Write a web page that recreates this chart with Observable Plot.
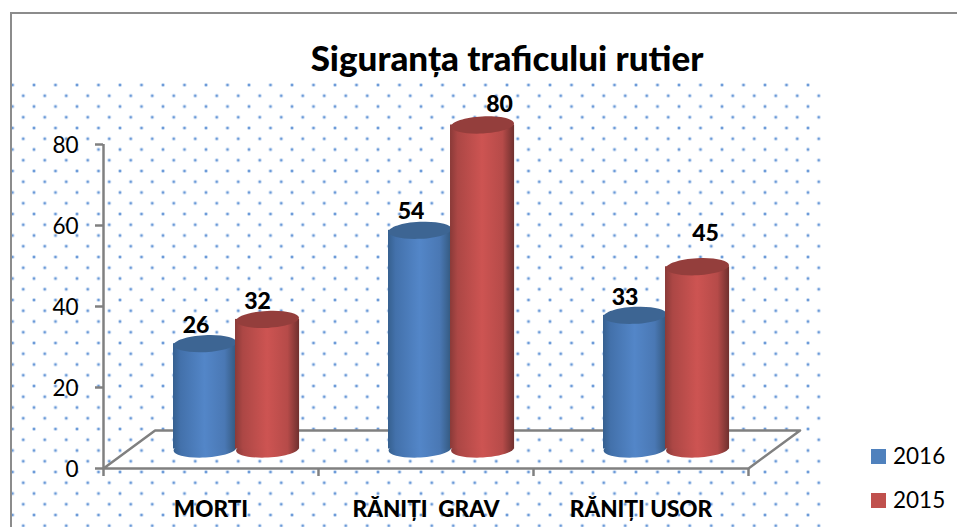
<!doctype html>
<html><head><meta charset="utf-8">
<script src="https://cdn.jsdelivr.net/npm/d3@7"></script>
<script src="https://cdn.jsdelivr.net/npm/@observablehq/plot@0.6"></script>
<style>
html,body{margin:0;padding:0;background:#fff;overflow:hidden}
#page{position:relative;width:957px;height:527px;overflow:hidden;font-family:Lato,sans-serif;color:#000}
#border{position:absolute;left:10px;top:12px;right:-4px;bottom:-4px;border-top:2px solid #8c8c8c;border-left:2px solid #8c8c8c}
#dots{position:absolute;left:7px;top:80px;width:815px;height:447px;
background-image:radial-gradient(circle,#5c8ed2 0,#6f9dd9 0.9px,#dbe7f6 1.7px,rgba(255,255,255,0) 2.4px),radial-gradient(circle,#5c8ed2 0,#6f9dd9 0.9px,#dbe7f6 1.7px,rgba(255,255,255,0) 2.4px);
background-size:21.5px 21.5px;background-position:-5.25px -5.75px,5.5px 5px}
#title{position:absolute;left:12px;width:990px;top:37px;text-align:center;font-weight:900;font-size:35px;line-height:40px}
#chart{position:absolute;left:0;top:0}
.lg{position:absolute;left:871px;width:100px;height:15px}
.lg i{position:absolute;left:0;top:0;width:15px;height:15px}
.lg span{position:absolute;left:22px;top:-8px;font-size:22.5px;line-height:30px}
</style></head><body>
<div id="page"><div id="dots"></div><div id="border"></div><div id="title"></div><div id="chart"></div></div>
<script>
const titleText = "Siguranța traficului rutier";
const categories = ["MORTI", "RĂNIȚI  GRAV", "RĂNIȚI USOR"];
const seriesNames = ["2016", "2015"];
const values2016 = [26, 54, 33];
const values2015 = [32, 80, 45];
const yTicks = [0, 20, 40, 60, 80];
const swatchColors = ["#4f81bd", "#c0504d"];

const rows = s => (s === 0 ? values2016 : values2015).map((v, i) => ({i, v, c: categories[i]}));
const blue = rows(0), red = rows(1);
const inkGray = "#808080";
const baseLift = -19.5;

// Floor of the 3-D box, in axis units (category widths, values)
const depthX = 0.24, depthY = 9.4;
const floor = [[0,0],[depthX,depthY],[3 + depthX,depthY],[3,0],[0,0]];

const ellipse = {draw(p) {
  const a = 31.5, b = 8.5, k = 0.5523;
  p.moveTo(-a,0);
  p.bezierCurveTo(-a,-k*b,-k*a,-b,0,-b);
  p.bezierCurveTo(k*a,-b,a,-k*b,a,0);
  p.bezierCurveTo(a,k*b,k*a,b,0,b);
  p.bezierCurveTo(-k*a,b,-a,k*b,-a,0);
  p.closePath();
}};

function cylinder(data, from, to, body, cap) {
  const mid = (from + to) / 2;
  return [
    Plot.dot(data, {x: d => d.i + mid, y: 0, symbol: ellipse, fill: body, dy: baseLift, rotate: -3}),
    Plot.rectY(data, {x1: d => d.i + from, x2: d => d.i + to, y1: 0, y2: "v", fill: body, dy: baseLift}),
    Plot.dot(data, {x: d => d.i + mid, y: "v", symbol: ellipse, fill: cap, dy: baseLift, rotate: -3})
  ];
}
const labelFont = {fontWeight: 900, fontSize: 23, fill: "#000", fontFamily: "Lato"};
const blueMid = 0.4725, redMid = 0.763;
const label = (data, mid, idx, dx, dy) => Plot.text(data.filter(d => d.i === idx), {
  x: d => d.i + mid, y: "v", text: d => String(d.v), dx, dy, ...labelFont});

const chart = Plot.plot({
  width: 957, height: 527,
  marginLeft: 103, marginRight: 209, marginTop: 144, marginBottom: 59,
  style: {background: "transparent", fontFamily: "Lato"},
  x: {domain: [0, 3], axis: null},
  y: {domain: [0, 80], axis: null},
  marks: [
    Plot.line(floor, {x: d => d[0], y: d => d[1], stroke: inkGray, strokeWidth: 2.5}),
    Plot.ruleX([0], {y1: 0, y2: 80, stroke: inkGray, strokeWidth: 2.5}),
    Plot.axisY({ticks: yTicks, tickSize: 8, stroke: inkGray, strokeWidth: 2.5, strokeOpacity: 1, tickFormat: () => "", label: null}),
    Plot.axisY({ticks: yTicks, tickSize: 0, tickPadding: 25, dy: 1, fontSize: 22.5, fill: "#000", label: null}),
    Plot.axisX({ticks: [0, 1, 2, 3], tickSize: 8, stroke: inkGray, strokeWidth: 2.5, strokeOpacity: 1, tickFormat: () => "", label: null}),
    Plot.axisX({ticks: [0.5, 1.5, 2.5], tickSize: 0, tickPadding: 33, tickFormat: t => categories[Math.floor(t)],
                fontWeight: 900, fontSize: 22.5, fill: "#000", label: null}),
    ...cylinder(blue, 0.3256, 0.619, "url(#gBlue)", "#3d6593"),
    ...cylinder(red, 0.614, 0.912, "url(#gRed)", "#943e3c"),
    label(blue, blueMid, 0, -9, -38), label(blue, blueMid, 1, -9, -38), label(blue, blueMid, 2, -10, -37),
    label(red, redMid, 0, -10, -37), label(red, redMid, 1, 17, -40), label(red, redMid, 2, 8, -53)
  ]
});

// Cylinder shading
const defs = d3.select(chart).insert("defs", ":first-child");
const grad = (id, stops) => {
  const g = defs.append("linearGradient").attr("id", id).attr("x1", 0).attr("x2", 1).attr("y1", 0).attr("y2", 0);
  stops.forEach(([o, c]) => g.append("stop").attr("offset", o).attr("stop-color", c));
};
grad("gBlue", [[0,"#36608f"],[0.12,"#4371ab"],[0.5,"#5386c8"],[0.82,"#4a78b4"],[1,"#34597f"]]);
grad("gRed", [[0,"#8a3a38"],[0.12,"#ac4745"],[0.5,"#cd5452"],[0.82,"#b64b49"],[1,"#6f302e"]]);

document.getElementById("chart").appendChild(chart);
document.getElementById("title").textContent = titleText;
seriesNames.forEach((name, k) => {
  const el = document.createElement("div");
  el.className = "lg";
  el.style.top = (449 + k * 44) + "px";
  el.innerHTML = `<i style="background:${swatchColors[k]}"></i><span>${name}</span>`;
  document.getElementById("page").appendChild(el);
});
</script></body></html>
